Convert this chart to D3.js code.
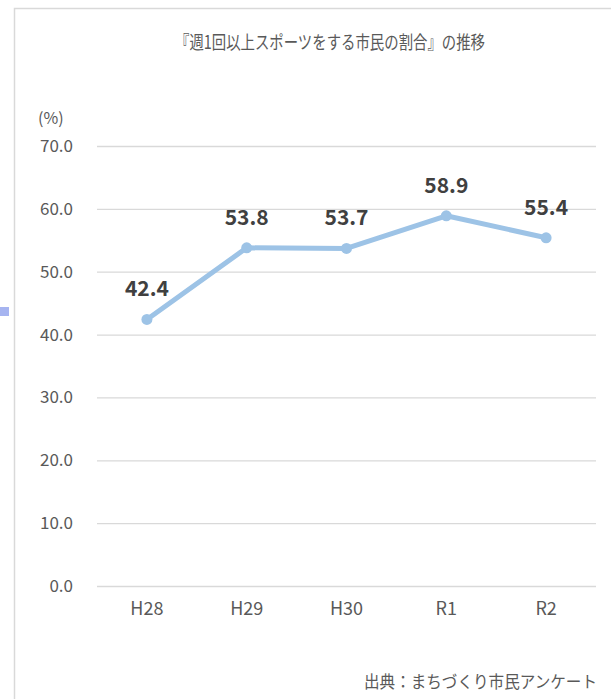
<!DOCTYPE html>
<html>
<head>
<meta charset="utf-8">
<script src="https://cdn.jsdelivr.net/npm/d3@7"></script>
<style>
  body { margin: 0; background: #fff; }
  text { font-family: "Noto Sans CJK JP", "Noto Sans", sans-serif; }
</style>
</head>
<body>
<svg width="611" height="699"></svg>
<script>
const categories = ['H28', 'H29', 'H30', 'R1', 'R2'];
const values = [42.4, 53.8, 53.7, 58.9, 55.4];
const yTicks = [0, 10, 20, 30, 40, 50, 60, 70];
const title = '『週1回以上スポーツをする市民の割合』の推移';
const source = '出典：まちづくり市民アンケート';

const svg = d3.select('svg');
const width = +svg.attr('width');
const height = +svg.attr('height');

// chart frame (top and left edge visible)
svg.append('path')
  .attr('d', `M14.5,${height} V8.5 H${width}`)
  .attr('fill', 'none')
  .attr('stroke', '#d9d9d9')
  .attr('stroke-width', 1.5);

// small marker at left edge
svg.append('rect')
  .attr('x', 0).attr('y', 307).attr('width', 9).attr('height', 9)
  .attr('fill', '#a6b4f0');

const margin = { top: 146, left: 97, right: 15, bottom: 113 };
const innerW = width - margin.left - margin.right;
const innerH = height - margin.top - margin.bottom;

const g = svg.append('g')
  .attr('transform', `translate(${margin.left},${margin.top})`);

const xscale = d3.scaleBand()
  .domain(categories)
  .range([0, innerW]);

const yscale = d3.scaleLinear()
  .domain([0, 70])
  .range([innerH, 0]);

// gridlines + y labels
const yAxis = g.append('g')
  .call(d3.axisLeft(yscale).tickValues(yTicks).tickFormat(d3.format('.1f'))
    .tickSize(-innerW).tickPadding(24));
yAxis.select('.domain').remove();
yAxis.selectAll('line').attr('stroke', '#d9d9d9').attr('stroke-width', 1.3);
yAxis.selectAll('text')
  .attr('fill', '#595959')
  .style('font-size', '17px');

// x labels
const xAxis = g.append('g')
  .attr('transform', `translate(0,${innerH})`)
  .call(d3.axisBottom(xscale).tickSize(0).tickPadding(16));
xAxis.select('.domain').remove();
xAxis.selectAll('text')
  .attr('fill', '#595959')
  .style('font-size', '18px');

const cx = (d, i) => xscale(categories[i]) + xscale.bandwidth() / 2;

const line = d3.line()
  .x(cx)
  .y(d => yscale(d));

g.append('path')
  .datum(values)
  .attr('d', line)
  .attr('fill', 'none')
  .attr('stroke', '#9dc3e6')
  .attr('stroke-width', 5)
  .attr('stroke-linejoin', 'round');

g.selectAll('circle').data(values)
  .enter()
  .append('circle')
  .attr('cx', cx)
  .attr('cy', d => yscale(d))
  .attr('r', 5.5)
  .attr('fill', '#9dc3e6');

g.selectAll('.lbl').data(values)
  .enter()
  .append('text')
  .attr('class', 'lbl')
  .attr('x', cx)
  .attr('y', d => yscale(d) - 23)
  .attr('text-anchor', 'middle')
  .attr('fill', '#404040')
  .style('font-size', '21px')
  .style('font-weight', 'bold')
  .text(d => d.toFixed(1));

svg.append('text')
  .text(title)
  .attr('x', 330)
  .attr('y', 49)
  .attr('text-anchor', 'middle')
  .attr('fill', '#595959')
  .attr('textLength', 310)
  .attr('lengthAdjust', 'spacingAndGlyphs')
  .style('font-size', '18.5px');

svg.append('text')
  .text('(%)')
  .attr('x', 38)
  .attr('y', 124)
  .attr('fill', '#595959')
  .style('font-size', '16px');

svg.append('text')
  .text(source)
  .attr('x', 597)
  .attr('y', 688)
  .attr('text-anchor', 'end')
  .attr('fill', '#595959')
  .attr('textLength', 233)
  .attr('lengthAdjust', 'spacingAndGlyphs')
  .style('font-size', '16.5px');
</script>
</body>
</html>
